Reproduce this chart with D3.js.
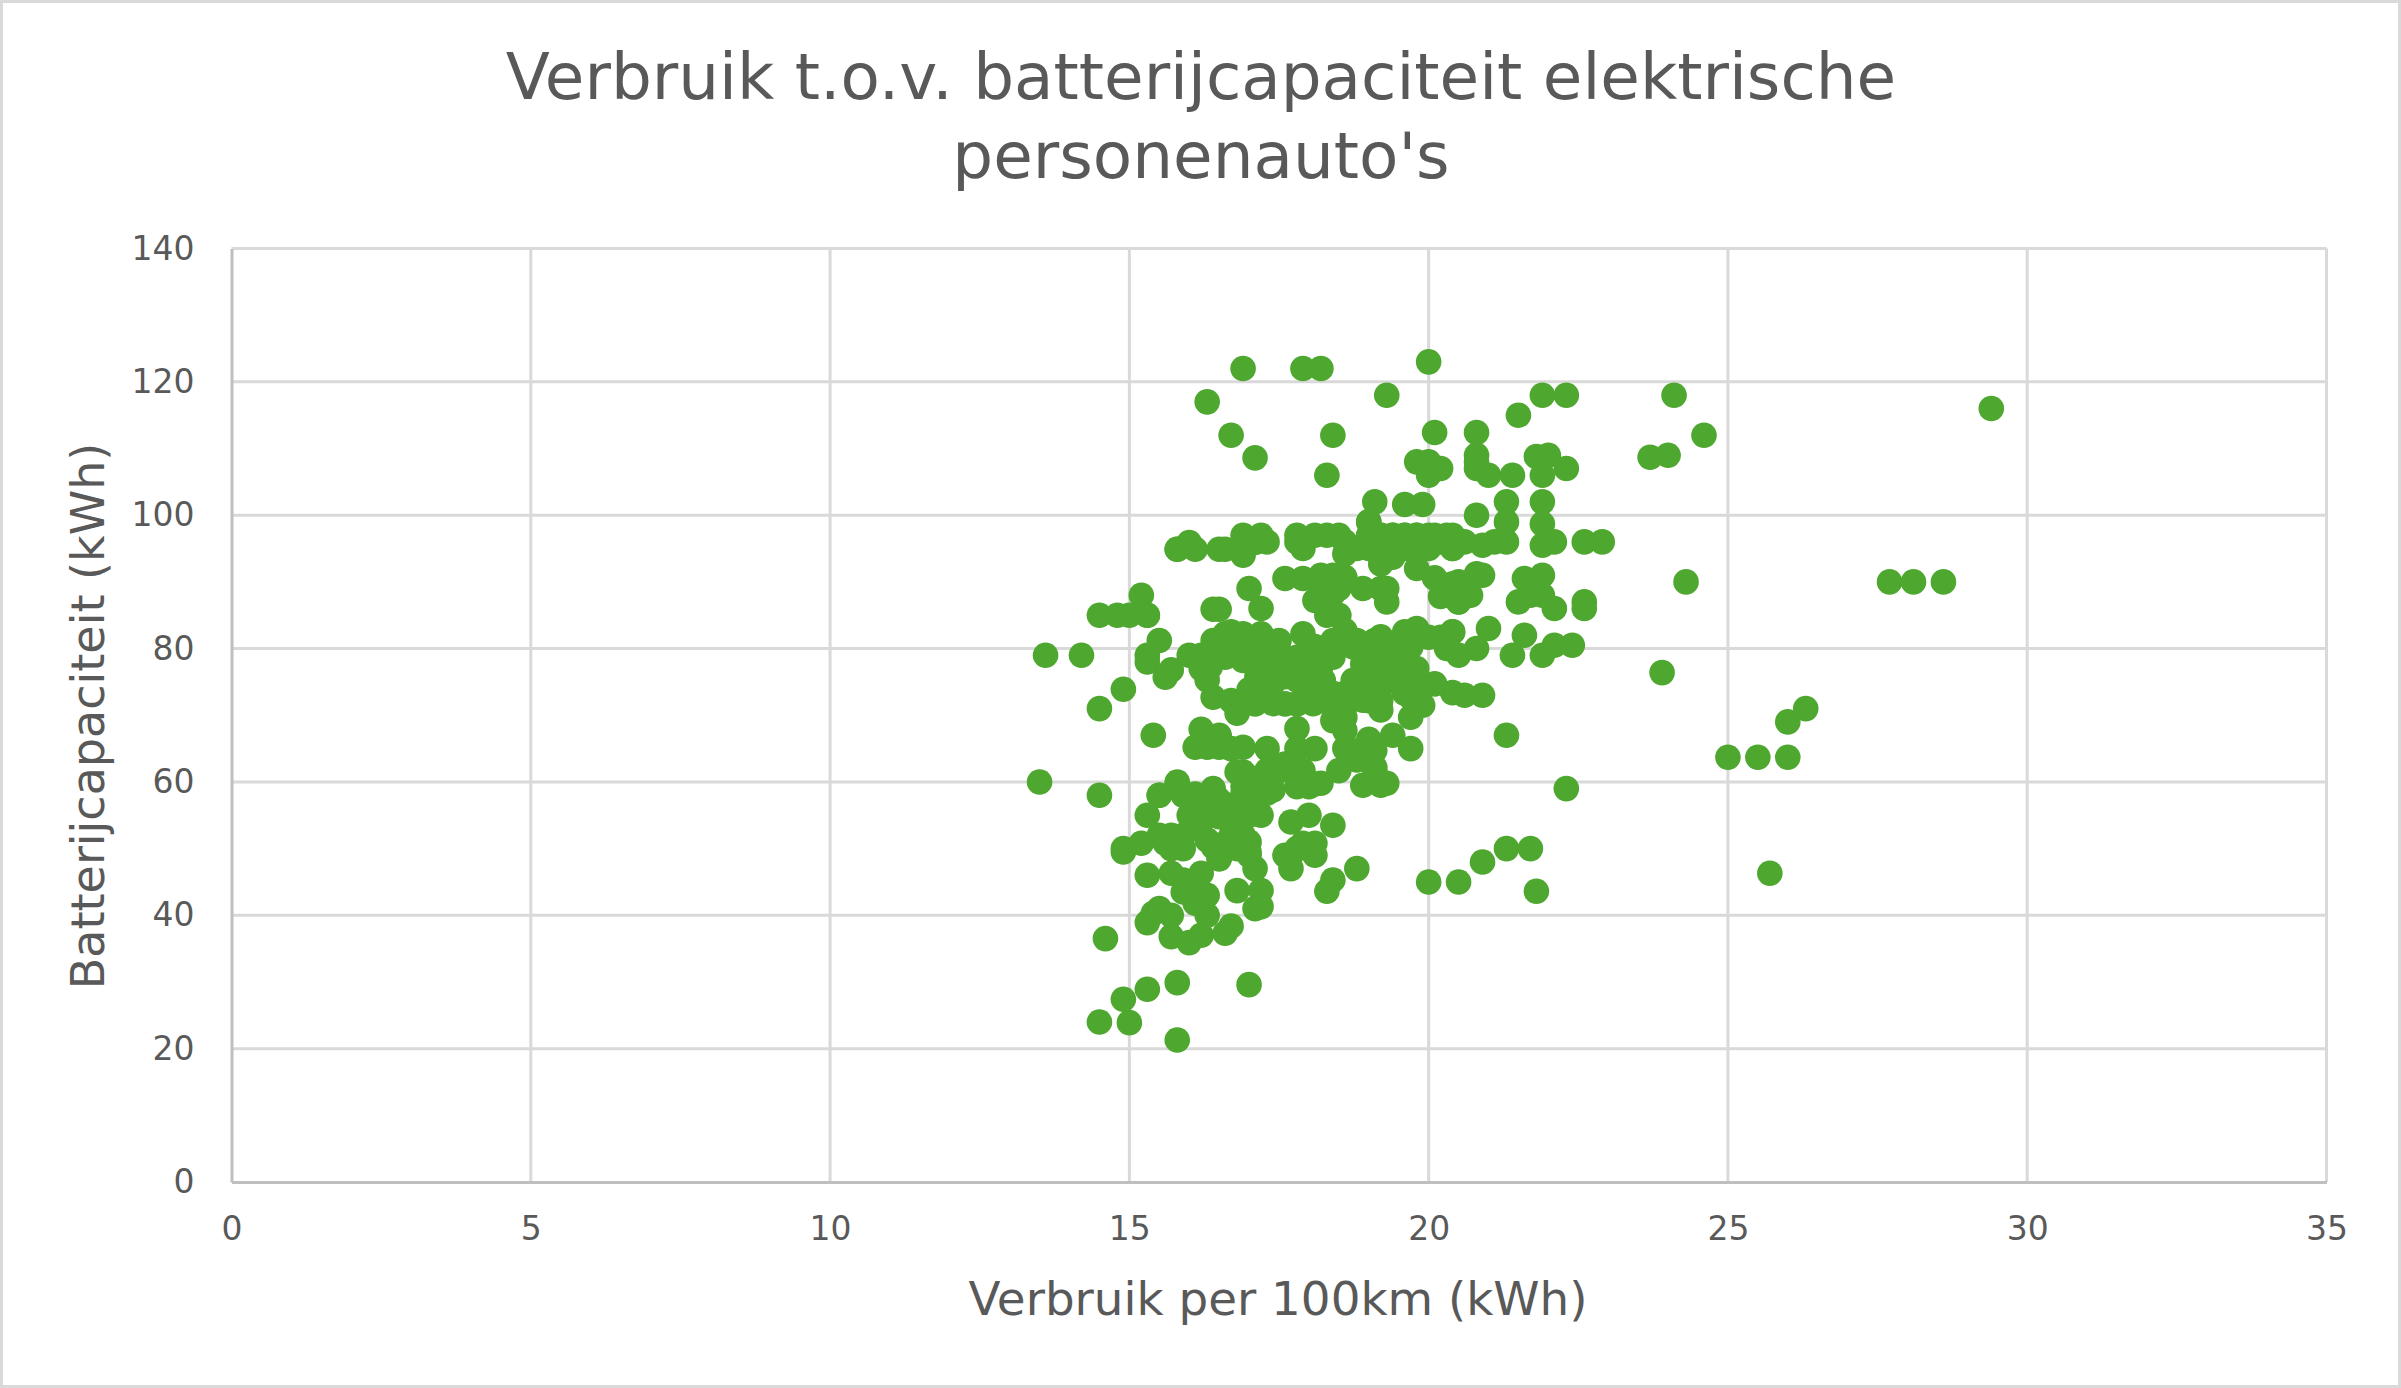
<!DOCTYPE html>
<html lang="nl">
<head>
<meta charset="utf-8">
<title>Verbruik t.o.v. batterijcapaciteit</title>
<script src="https://cdn.jsdelivr.net/npm/d3@7/dist/d3.min.js"></script>
<style>
  html, body { margin: 0; padding: 0; background: #fff; }
  svg { display: block; }
  text { font-family: "DejaVu Sans", Verdana, sans-serif; fill: #595959; }
</style>
</head>
<body>
<svg id="chart" width="2401" height="1388"></svg>
<script>
// Consumption per 100 km (kWh) for each model
const verbruik = [
  16.9,17.9,18.2,20,16.3,19.3,16.7,18.4,17.1,18.3,
  20.1,20.8,20.8,20.8,20.8,21,19.8,20,20.2,20,
  19.1,19.6,19.9,20.8,19,21.5,21.9,22.3,24.1,24.6,
  23.7,24,21.8,22,22.3,21.9,21.4,21.3,21.9,21.3,
  21.9,21.9,22.1,21.3,21.1,20.9,20.4,20.4,20.6,22.6,
  22.9,24.3,27.7,28.1,28.6,29.4,25.7,26.3,26,25,
  25.5,26,22.3,21.3,23.9,20.4,20.6,20.9,22.4,22.1,
  21.9,21.4,21.6,21,20.8,20.4,20.5,22.6,22.6,22.1,
  21.9,21.7,21.5,21.6,21.9,20.8,20.9,20.7,20.5,20.5,
  20,20.5,20.9,21.3,21.7,21.8,14.5,15,15.8,14.9,
  15.3,15.8,17,14.6,15.3,15.4,15.5,15.7,15.7,16,
  16.2,16.3,16.6,16.7,15.3,15.7,15.9,16.2,15.9,16.3,
  16.1,16.2,16.8,17.2,17.1,17.2,17.1,17,16.9,16.5,
  17.7,18.1,18.1,17.7,18,18.4,17.7,17.6,17.9,17.8,
  18.8,18.4,18.3,14.9,14.9,15.2,15.5,15.6,15.9,15.8,
  15.3,15.5,15.8,15.7,15.9,16.1,16.3,16.5,16.2,16.3,
  16.5,16.4,16.7,16.9,17,17,16.8,16.6,17.2,17,
  16.9,16.8,16.5,16.2,16.1,16,16.4,15.9,15.8,15.7,
  15.8,14.5,14.8,15,15.3,15.8,16,16.1,16.5,16.6,
  16.9,17.2,16.9,17.1,17.3,17.8,17.8,17.9,18.1,18.3,
  18.5,18.6,18.6,19,19,18.8,19.2,19.4,19.6,19.8,
  20,20.2,20.4,19,19.2,19.4,19.6,19.8,20,19.2,
  19.4,19.8,20.1,20.2,20.5,20.4,20.3,20.6,19.2,19.3,
  19.3,18.9,18.6,18.2,17.9,17.6,18.4,18.1,18.2,18.4,
  18.5,18.3,18.5,18.2,17,17.2,16.4,16.5,15.2,15.3,
  15.5,15.3,15.3,15.6,15.7,14.9,14.5,15.4,16,16.2,
  16.2,16.3,16.4,16.4,16.6,16.7,16.9,16.8,16.8,17.1,
  17.2,17.2,17.5,17.9,18.1,16.7,16.9,17.2,17,16.6,
  16.9,17.2,17.4,17.6,17.8,17.6,17.8,18,17.8,17.6,
  17.4,18,18,18.2,18.4,18.4,18.6,18.8,19,19.1,
  18.9,19.1,19.2,18.9,19.2,19.2,19.2,19,18.8,18.6,
  18.4,18.2,18.4,18.6,18.4,18.6,18.6,18.6,17.8,17.8,
  18.1,17.3,16.2,16.1,16.3,16.5,16.5,16.9,16.7,19,
  19.4,19.1,19.7,18.9,19.7,19.7,19.8,20.1,19.9,19.6,
  19.6,19.8,20,20.2,20.4,19.5,19.7,19.8,19.6,20.3,
  18.5,18.9,19.2,19.3,19.1,18.8,19,19.1,15.5,16.1,
  16.4,16.9,16.8,17,17.5,17.3,17.7,17.9,17.8,18.2,
  18,18.1,17.4,17.1,17.2,16.9,17,16.9,16.7,16.9,
  17.1,17.3,17.6,19,19.2,19.4,19.6,19.8,20.1,20.3,
  13.6,14.2,13.5,14.5,17.13,17.35,16.35,17.2,17.4,18.24,
  18.07,18.74,18.3,18.74,19.3,19.35,19.2,18.9,19.5,19
];

// Battery capacity (kWh), in the same order as the consumption list
const capaciteit = [
  122,122,122,123,117,118,112,112,108.6,106,
  112.4,112.4,109,108,107,106,108,108,107,106,
  102,101.6,101.6,100,99,115,118,118,118,112,
  108.7,109,108.8,109,107,106,106,102,102,99,
  98.7,95.5,96,96,96,95.5,97,95,96,96,
  96,90,90,90,90,116,46.3,71,69,63.7,
  63.7,63.7,59,67,76.4,73.4,73,73,80.5,80.5,
  79,79,82,83,80,82.5,79,87,86,86,
  88,88,87,90.5,91,91.2,91,88,87,90,
  45,45,48,50,50,43.6,24,23.9,21.3,27.4,
  28.9,29.9,29.6,36.5,38.9,40.3,41,40,36.8,35.9,
  37,40,37.3,38.4,46,46.3,45.3,46.3,43.5,43,
  41.8,43,43.7,43.7,41,41.3,47,49,50.8,48.5,
  47,49,50.8,54,55,53.5,49,49,50.8,50,
  47,45.3,43.6,49.5,50,50.8,52,50.8,50,50.8,
  55,58,59.8,52,52,55,56.5,54.8,54,51.3,
  48.5,50.3,52,52,51,49.5,50,50.8,55,55,
  57.3,53.8,57.3,56.5,57.8,55,58.3,58,60,50,
  94.9,85,85,85,85,94.9,95.9,94.9,94.9,94.9,
  97,97,94,95.9,96,97,96,95,97,97,
  97,96,94.2,97,95,95,97,97,97,97,
  97,96,95,99,95,96,95,95,95,92.7,
  93.7,92,90.6,87.8,87,89.7,88,89,89,87,
  89,89,90.7,91,90.5,90.5,91,87.2,89,88.2,
  89,85,85,87,89,86,85.9,85.9,88,85,
  81.2,79,78,75.7,76.8,73.9,71,67,79,79,
  77,75.3,72.7,81.2,82.2,82.5,82.2,80.3,70.3,71.7,
  82.2,80.2,81.2,82.2,80.3,72.2,72.2,73.8,73.8,78.7,
  78.2,77.7,78.2,78.7,78.7,71.7,71.7,74.3,75.3,75.8,
  74.8,77.7,76.3,77.3,78.7,81.2,82.7,81.2,80.7,81.2,
  77.7,77.7,76.8,75.3,74.3,70.8,72.2,72.2,73.3,73.3,
  73.3,72.2,71.3,71.3,69.2,69.7,67.7,65,68,65,
  65,65,67.9,65.2,65.2,67,65.2,65.2,65,66.4,
  67,64.7,65,65,69.7,72.7,73.8,74.7,71.5,73.3,
  82.5,83,81.7,81.7,82.5,79.9,80.2,77,77,80,
  61.7,59.5,59.5,59.8,61.7,63.3,63.8,62.2,58,58.2,
  59,61.5,61.5,60.7,61.7,61.7,61.7,61.7,59.3,59.8,
  59.3,59.7,58.8,59.8,60.7,59.3,58.3,55.3,56.5,58.3,
  58.3,58.3,62.7,97,97,97,97,97,97,97,
  79,79,60,58,75.75,75.75,77.25,72.25,71.75,75.25,
  71.75,75.25,79.75,80.25,78.75,75.75,81.75,72.25,78.75,78
];

const xTicks = [0, 5, 10, 15, 20, 25, 30, 35];
const yTicks = [0, 20, 40, 60, 80, 100, 120, 140];
const titleLines = ["Verbruik t.o.v. batterijcapaciteit elektrische", "personenauto's"];
const xLabel = "Verbruik per 100km (kWh)";
const yLabel = "Batterijcapaciteit (kWh)";

const width = 2401, height = 1388;
const plot = { left: 231.5, right: 2326.5, top: 248.5, bottom: 1182 };

const svg = d3.select("#chart");
const x = d3.scaleLinear().domain([0, 35]).range([plot.left, plot.right]);
const y = d3.scaleLinear().domain([0, 140]).range([plot.bottom, plot.top]);

// Outer chart frame
svg.append("rect")
  .attr("x", 1.5).attr("y", 1.5)
  .attr("width", width - 3).attr("height", height - 3)
  .attr("fill", "#fff").attr("stroke", "#D9D9D9").attr("stroke-width", 3);

// Gridlines
svg.append("g").selectAll("line").data(xTicks.slice(1)).join("line")
  .attr("x1", d => x(d)).attr("x2", d => x(d))
  .attr("y1", plot.top).attr("y2", plot.bottom)
  .attr("stroke", "#D9D9D9").attr("stroke-width", 3);
svg.append("g").selectAll("line").data(yTicks.slice(1)).join("line")
  .attr("x1", plot.left).attr("x2", plot.right)
  .attr("y1", d => y(d)).attr("y2", d => y(d))
  .attr("stroke", "#D9D9D9").attr("stroke-width", 3);

// Axes: baseline only, labels come from the tick formatter
const xAxis = svg.append("g").attr("transform", `translate(0,${plot.bottom})`)
  .call(d3.axisBottom(x).tickValues(xTicks).tickSize(0).tickPadding(35).tickFormat(d3.format("d")));
const yAxis = svg.append("g").attr("transform", `translate(${plot.left},0)`)
  .call(d3.axisLeft(y).tickValues(yTicks).tickSize(0).tickPadding(37).tickFormat(d3.format("d")));
[xAxis, yAxis].forEach(a => {
  a.select(".domain").attr("stroke", "#BFBFBF").attr("stroke-width", 3);
  a.selectAll("text").attr("font-family", '"DejaVu Sans", Verdana, sans-serif')
    .attr("font-size", 33).attr("fill", "#595959");
});

// Scatter points
const punten = d3.zip(verbruik, capaciteit);
svg.append("g").attr("fill", "#4EA72E").selectAll("circle").data(punten).join("circle")
  .attr("cx", d => x(d[0])).attr("cy", d => y(d[1])).attr("r", 12.8);

// Title and axis titles
svg.append("g").selectAll("text").data(titleLines).join("text")
  .attr("x", 1201).attr("y", (d, i) => 99 + i * 79)
  .attr("text-anchor", "middle").attr("font-size", 64.4).text(d => d);
svg.append("text").attr("x", 1278).attr("y", 1315)
  .attr("text-anchor", "middle").attr("font-size", 46.8).text(xLabel);
svg.append("text").attr("transform", "translate(104,716) rotate(-90)")
  .attr("text-anchor", "middle").attr("font-size", 46).text(yLabel);
</script>
</body>
</html>
